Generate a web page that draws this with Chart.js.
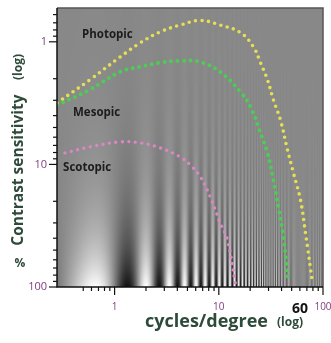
<!DOCTYPE html>
<html>
<head>
    <title>Contrast sensitivity</title>
    <script src="https://cdn.jsdelivr.net/npm/chart.js"></script>
    <style>
        body { margin: 0; background: #fff; }
        canvas { display: block; }
    </style>
</head>
<body>
    <canvas id="myChart" width="331" height="343"></canvas>
    <script>
        // curves (cycles/degree, contrast sensitivity)
        const photopicX = [0.28, 0.58, 1.13, 1.76, 2.74, 4.26, 6.64, 10.3, 16.1, 21.5, 25.1, 29.3, 33.4, 39.0, 45.6, 52.0, 60.8, 67.9, 79.3];
        const photopicY = [3.15, 2.04, 1.33, 1.02, 0.83, 0.73, 0.67, 0.73, 0.84, 1.10, 1.48, 2.04, 2.97, 4.33, 7.6, 11.7, 19.5, 36.2, 92.7];
        const mesopicX = [0.28, 0.58, 1.13, 1.76, 2.74, 4.26, 6.64, 10.3, 16.1, 20.1, 25.1, 29.3, 33.4, 37.3, 41.7, 46.6];
        const mesopicY = [3.27, 2.46, 1.76, 1.60, 1.48, 1.43, 1.46, 1.76, 2.56, 3.39, 5.53, 8.06, 13.4, 22.2, 39.1, 92.7];
        const scotopicX = [0.334, 0.58, 1.13, 1.76, 2.74, 4.26, 5.32, 6.64, 8.28, 10.3, 12.1, 14.4];
        const scotopicY = [8.06, 7.20, 6.55, 6.67, 7.33, 8.69, 10.1, 12.6, 18.4, 30.0, 41.3, 92.7];

        const curveNames = ['Photopic', 'Mesopic', 'Scotopic'];
        const curveLabelX = [0.487, 0.399, 0.32];
        const curveLabelY = [0.877, 3.8, 10.7];

        const xMajor = [1, 10, 100];
        const xMinor = [0.5, 0.6, 0.7, 0.8, 0.9, 2, 3, 4, 5, 6, 7, 8, 9, 20, 30, 40, 50, 60, 70, 80, 90];
        const xLabels = { 1: '1', 10: '10', 60: '60', 100: '100' };
        const yMajor = [1, 10, 100];
        const yMinor = [0.6, 0.7, 0.8, 0.9, 2, 3, 4, 5, 6, 7, 8, 9, 20, 30, 40, 50, 60, 70, 80, 90];
        const yLabels = { 1: '1', 10: '10', 100: '100' };

        const toPoints = (xs, ys) => xs.map((x, i) => ({ x: x, y: ys[i] }));
        const tickPurple = '#7d3c7d';
        const titleColor = '#2e4a38';

        // Campbell-Robson style grating behind the curves
        const gratingPlugin = {
            id: 'grating',
            beforeDatasetsDraw(chart) {
                const { ctx, chartArea: a, scales } = chart;
                const left = Math.round(a.left), top = Math.round(a.top);
                const w = Math.round(a.right) - left, h = Math.round(a.bottom) - top;
                const img = ctx.createImageData(w, h);
                const cyc = 0.74, off = 0.65;
                const col = [];
                for (let i = 0; i < w; i++) {
                    const p0 = 2 * Math.PI * cyc * (scales.x.getValueForPixel(left + i) - off);
                    const p1 = 2 * Math.PI * cyc * (scales.x.getValueForPixel(left + i + 1) - off);
                    col.push((Math.sin(p1) - Math.sin(p0)) / (p1 - p0));
                }
                for (let j = 0; j < h; j++) {
                    const v = scales.y.getValueForPixel(top + j + 0.5);
                    const c = Math.min(v, 100) / 100;
                    for (let i = 0; i < w; i++) {
                        const g = 136 + 118 * c * col[i];
                        const k = (j * w + i) * 4;
                        img.data[k] = g; img.data[k + 1] = g; img.data[k + 2] = g; img.data[k + 3] = 255;
                    }
                }
                ctx.putImageData(img, left, top);
            }
        };

        const decorPlugin = {
            id: 'decor',
            afterDraw(chart) {
                const { ctx, chartArea: a, scales } = chart;
                ctx.save();
                // frame
                ctx.strokeStyle = '#555';
                ctx.lineWidth = 1.5;
                ctx.beginPath();
                ctx.moveTo(a.left, a.top); ctx.lineTo(a.right, a.top); ctx.lineTo(a.right, a.bottom);
                ctx.stroke();
                ctx.strokeStyle = '#111';
                ctx.beginPath();
                ctx.moveTo(a.left, a.top); ctx.lineTo(a.left, a.bottom); ctx.lineTo(a.right, a.bottom);
                ctx.stroke();
                // ticks
                ctx.lineWidth = 1.2;
                const xt = (vals, len) => vals.forEach(v => {
                    const px = scales.x.getPixelForValue(v);
                    ctx.beginPath(); ctx.moveTo(px, a.bottom); ctx.lineTo(px, a.bottom + len); ctx.stroke();
                });
                const yt = (vals, len) => vals.forEach(v => {
                    const py = scales.y.getPixelForValue(v);
                    ctx.beginPath(); ctx.moveTo(a.left, py); ctx.lineTo(a.left - len, py); ctx.stroke();
                });
                xt(xMinor, 4); xt(xMajor, 8);
                yt(yMinor, 4); yt(yMajor, 8);

                // curve names
                ctx.fillStyle = '#1c1c1c';
                ctx.font = 'bold 11.5px "Open Sans"';
                ctx.textAlign = 'left';
                ctx.textBaseline = 'middle';
                curveNames.forEach((n, i) => {
                    ctx.fillText(n, scales.x.getPixelForValue(curveLabelX[i]), scales.y.getPixelForValue(curveLabelY[i]));
                });

                // axis titles
                ctx.fillStyle = titleColor;
                ctx.font = 'bold 18px "Open Sans"';
                ctx.fillText('cycles/degree', 145, 322);
                ctx.font = 'bold 12px "Open Sans"';
                ctx.fillText('(log)', 277, 323);

                ctx.save();
                ctx.translate(19, 170);
                ctx.rotate(-Math.PI / 2);
                ctx.textAlign = 'center';
                ctx.font = 'bold 15.5px "Open Sans"';
                ctx.fillText('Contrast sensitivity', 0, 0);
                ctx.font = 'bold 12px "Open Sans"';
                ctx.fillText('(log)', 103, 0);
                ctx.restore();

                ctx.textAlign = 'center';
                ctx.font = 'bold 12px "Open Sans"';
                ctx.fillText('%', 20, 264);
                ctx.restore();
            }
        };

        const dotted = (color, width) => ({
            borderColor: color,
            borderWidth: width,
            borderDash: [0, 6.5],
            borderCapStyle: 'round',
            pointRadius: 0,
            tension: 0.4,
            fill: false
        });

        const ctx = document.getElementById('myChart').getContext('2d');
        const myChart = new Chart(ctx, {
            type: 'line',
            data: {
                datasets: [
                    Object.assign({ label: 'Photopic', data: toPoints(photopicX, photopicY) }, dotted('#e6de55', 3.6)),
                    Object.assign({ label: 'Mesopic', data: toPoints(mesopicX, mesopicY) }, dotted('#4fca55', 4)),
                    Object.assign({ label: 'Scotopic', data: toPoints(scotopicX, scotopicY) }, dotted('#dc86c6', 3.4))
                ]
            },
            options: {
                responsive: false,
                animation: false,
                layout: { padding: { top: 8, right: 8, left: 0, bottom: 0 } },
                plugins: { legend: { display: false }, tooltip: { enabled: false } },
                scales: {
                    x: {
                        type: 'logarithmic',
                        min: 0.28,
                        max: 100,
                        afterFit: s => { s.height = 56; s.paddingLeft = 0; s.paddingRight = 0; },
                        afterBuildTicks: s => { s.ticks = Object.keys(xLabels).map(v => ({ value: +v })); },
                        grid: { display: false, drawTicks: false },
                        border: { display: false },
                        ticks: {
                            autoSkip: false,
                            maxRotation: 0,
                            padding: 14,
                            callback: v => xLabels[v] || '',
                            color: c => c.tick && c.tick.value === 60 ? '#111' : tickPurple,
                            font: c => c.tick && c.tick.value === 60
                                ? { family: '"Open Sans"', size: 14, weight: 'bold' }
                                : { family: '"Open Sans"', size: 10 }
                        }
                    },
                    y: {
                        type: 'logarithmic',
                        reverse: true,
                        min: 0.53,
                        max: 100,
                        afterFit: s => { s.width = 57; s.paddingTop = 0; s.paddingBottom = 0; },
                        afterBuildTicks: s => { s.ticks = yMajor.map(v => ({ value: v })); },
                        grid: { display: false, drawTicks: false },
                        border: { display: false },
                        ticks: {
                            autoSkip: false,
                            padding: 10,
                            callback: v => yLabels[v] || '',
                            color: tickPurple,
                            font: { family: '"Open Sans"', size: 11 }
                        }
                    }
                }
            },
            plugins: [gratingPlugin, decorPlugin]
        });
    </script>
</body>
</html>
